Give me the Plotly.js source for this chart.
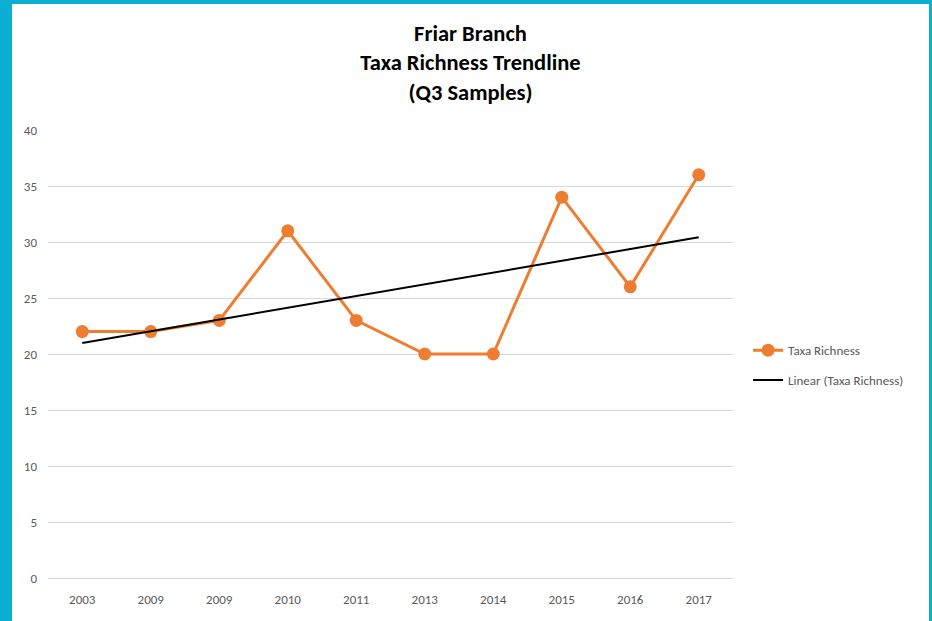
<!DOCTYPE html>
<html>
<head>
<meta charset="utf-8">
<script src="https://cdn.plot.ly/plotly-3.0.1.min.js"></script>
<style>
  html, body { margin: 0; padding: 0; }
  #frame { position: absolute; left: 0; top: 0; width: 932px; height: 621px; background: #0AAFD2; overflow: hidden; }
  #chart { position: absolute; left: 12px; top: 4px; width: 917px; height: 617px; background: #ffffff; }
</style>
</head>
<body>
<div id="frame"><div id="chart"></div></div>
<script>
// Data
const yearLabels = ["2003", "2009", "2009", "2010", "2011", "2013", "2014", "2015", "2016", "2017"];
const taxaRichness = [22, 22, 23, 31, 23, 20, 20, 34, 26, 36];
// Linear trendline endpoints (first and last sample)
const trendValues = [20.98, 30.42];

const xIndex = yearLabels.map((_, i) => i);
const trendX = [xIndex[0], xIndex[xIndex.length - 1]];

const font = '"Carlito", "Liberation Sans Narrow", "Lato", "Liberation Sans", sans-serif';

const traces = [
  {
    x: xIndex,
    y: taxaRichness,
    type: 'scatter',
    mode: 'lines+markers',
    name: 'Taxa Richness',
    legendgroup: 'a',
    line: { color: '#ED7D31', width: 3 },
    marker: { color: '#ED7D31', size: 13 }
  },
  {
    x: trendX,
    y: trendValues,
    type: 'scatter',
    mode: 'lines',
    name: 'Linear (Taxa Richness)',
    legendgroup: 'b',
    line: { color: '#000000', width: 2 }
  }
];

const layout = {
  width: 917,
  height: 617,
  paper_bgcolor: '#ffffff',
  plot_bgcolor: '#ffffff',
  margin: { l: 36, r: 196, t: 126, b: 43 },
  title: {
    text: '<b>Friar Branch<br>Taxa Richness Trendline<br>(Q3 Samples)</b>',
    font: { family: font, size: 22.5, color: '#000000' },
    x: 0.5,
    xanchor: 'center',
    yref: 'container',
    y: 0.94,
    yanchor: 'top'
  },
  xaxis: {
    type: 'linear',
    range: [-0.5, 9.5],
    tickvals: xIndex,
    ticktext: yearLabels,
    showgrid: false,
    zeroline: false,
    showline: true,
    linecolor: '#d9d9d9',
    linewidth: 1,
    ticks: '',
    ticklabelstandoff: 9,
    tickfont: { family: font, size: 13, color: '#595959' },
    fixedrange: true
  },
  yaxis: {
    range: [0, 40],
    tickvals: [0, 5, 10, 15, 20, 25, 30, 35, 40],
    showgrid: true,
    gridcolor: '#d9d9d9',
    gridwidth: 1,
    zeroline: false,
    showline: false,
    ticks: '',
    ticklabelstandoff: 10,
    tickfont: { family: font, size: 13, color: '#595959' },
    fixedrange: true
  },
  showlegend: true,
  legend: {
    x: 1.022,
    xanchor: 'left',
    y: 0.475,
    yanchor: 'middle',
    font: { family: font, size: 13, color: '#595959' },
    bgcolor: 'rgba(0,0,0,0)',
    tracegroupgap: 10
  }
};

Plotly.newPlot('chart', traces, layout, { displayModeBar: false, staticPlot: true });
</script>
</body>
</html>
